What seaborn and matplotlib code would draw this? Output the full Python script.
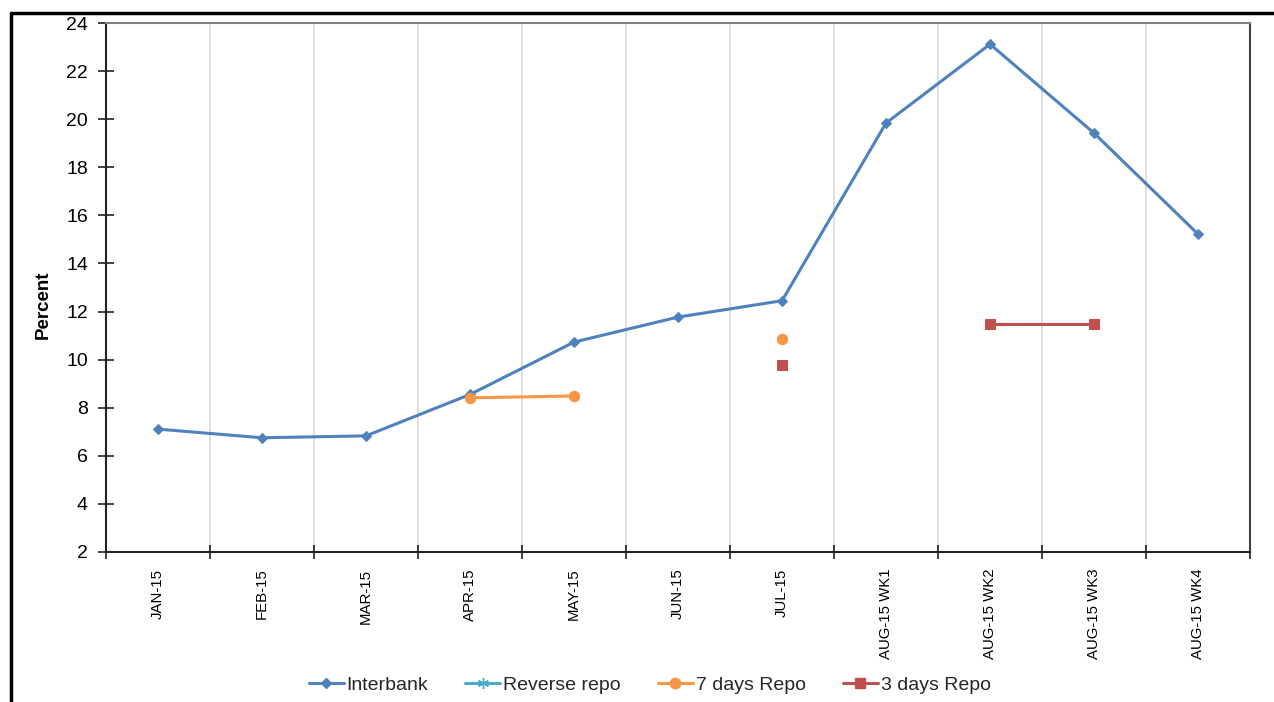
import numpy as np
import pandas as pd
import seaborn as sns
import matplotlib.pyplot as plt
from matplotlib.lines import Line2D

categories = ["JAN-15", "FEB-15", "MAR-15", "APR-15", "MAY-15", "JUN-15",
              "JUL-15", "AUG-15 WK1", "AUG-15 WK2", "AUG-15 WK3", "AUG-15 WK4"]
interbank = [7.11, 6.75, 6.83, 8.55, 10.73, 11.77, 12.45, 19.84, 23.12, 19.42, 15.22]
reverse_repo = [np.nan] * 11
repo_7d = [np.nan, np.nan, np.nan, 8.41, 8.49, np.nan, 10.86, np.nan, np.nan, np.nan, np.nan]
repo_3d = [np.nan, np.nan, np.nan, np.nan, np.nan, np.nan, 9.78, np.nan, 11.49, 11.49, np.nan]

series = {
    "Interbank": interbank,
    "Reverse repo": reverse_repo,
    "7 days Repo": repo_7d,
    "3 days Repo": repo_3d,
}
colors = {"Interbank": "#4F81BD", "Reverse repo": "#4BACC6",
          "7 days Repo": "#F79646", "3 days Repo": "#C0504D"}
markers = {"Interbank": "D", "Reverse repo": (6, 2, 0), "7 days Repo": "o", "3 days Repo": "s"}
msizes = {"Interbank": 5.5, "Reverse repo": 8, "7 days Repo": 7.5, "3 days Repo": 6.5}

# long form, with a segment id so gaps (NaN) break the lines
rows = []
for name, vals in series.items():
    seg = 0
    prev_nan = True
    for i, v in enumerate(vals):
        if np.isnan(v):
            prev_nan = True
            continue
        if prev_nan:
            seg += 1
        prev_nan = False
        rows.append({"series": name, "x": i, "value": v, "seg": f"{name}_{seg}"})
df = pd.DataFrame(rows)

sns.set_style("white")
plt.rcParams["font.family"] = ["Liberation Sans", "DejaVu Sans"]

fig = plt.figure(figsize=(12.74, 7.02), dpi=100)
ax = fig.add_axes([0.0832, 0.2137, 0.898, 0.7535])

for name in series:
    sub = df[df["series"] == name]
    if sub.empty:
        continue
    sns.lineplot(data=sub, x="x", y="value", units="seg", estimator=None,
                 color=colors[name], marker=markers[name], markersize=msizes[name],
                 markeredgecolor=colors[name], linewidth=2.2, ax=ax, legend=False)

ax.set_xlim(-0.5, len(categories) - 0.5)
ax.set_ylim(2, 24)
ax.set_yticks(np.arange(2, 25, 2))
ax.set_xticks(range(len(categories)))
ax.set_xticklabels(categories, rotation=90, fontsize=10.8, color="black")
ax.set_xticks(np.arange(-0.5, len(categories), 1), minor=True)
ax.tick_params(axis="x", which="major", bottom=True, length=0, pad=12)
ax.tick_params(axis="x", which="minor", bottom=True, direction="inout", length=10,
               width=1.2, color="#222222")
ax.tick_params(axis="y", left=True, direction="inout", length=12, width=1.2, color="#222222",
               labelsize=14, labelcolor="black", pad=7)
ax.grid(False)
ax.grid(True, axis="x", which="minor", color="#D9D9D9", linewidth=1.2)
ax.set_xlabel("")
ax.set_ylabel("Percent", fontsize=13.5, fontweight="bold", color="black")
ax.yaxis.set_label_coords(-0.047, 0.468)

for side in ["left", "bottom"]:
    ax.spines[side].set_color("#222222")
    ax.spines[side].set_linewidth(1.5)
ax.spines["top"].set_color("#808080")
ax.spines["top"].set_linewidth(1.5)
ax.spines["right"].set_color("#404040")
ax.spines["right"].set_linewidth(1.5)

handles = [Line2D([], [], color=colors[n], marker=markers[n], markersize=msizes[n],
                  markeredgecolor=colors[n], linewidth=2.2) for n in series]
fig.legend(handles, list(series), loc="center", bbox_to_anchor=(0.510, 0.024), ncol=4,
           frameon=False, fontsize=14, handlelength=1.8, handletextpad=0.15,
           columnspacing=1.9)

# outer frame (left and top edges visible)
fig.add_artist(Line2D([0.0086, 0.0086], [0.0, 0.9815], color="black", linewidth=2.5,
                      transform=fig.transFigure))
fig.add_artist(Line2D([0.0086, 1.0], [0.9815, 0.9815], color="black", linewidth=2.5,
                      transform=fig.transFigure))

fig.savefig("out.png", dpi=100)
